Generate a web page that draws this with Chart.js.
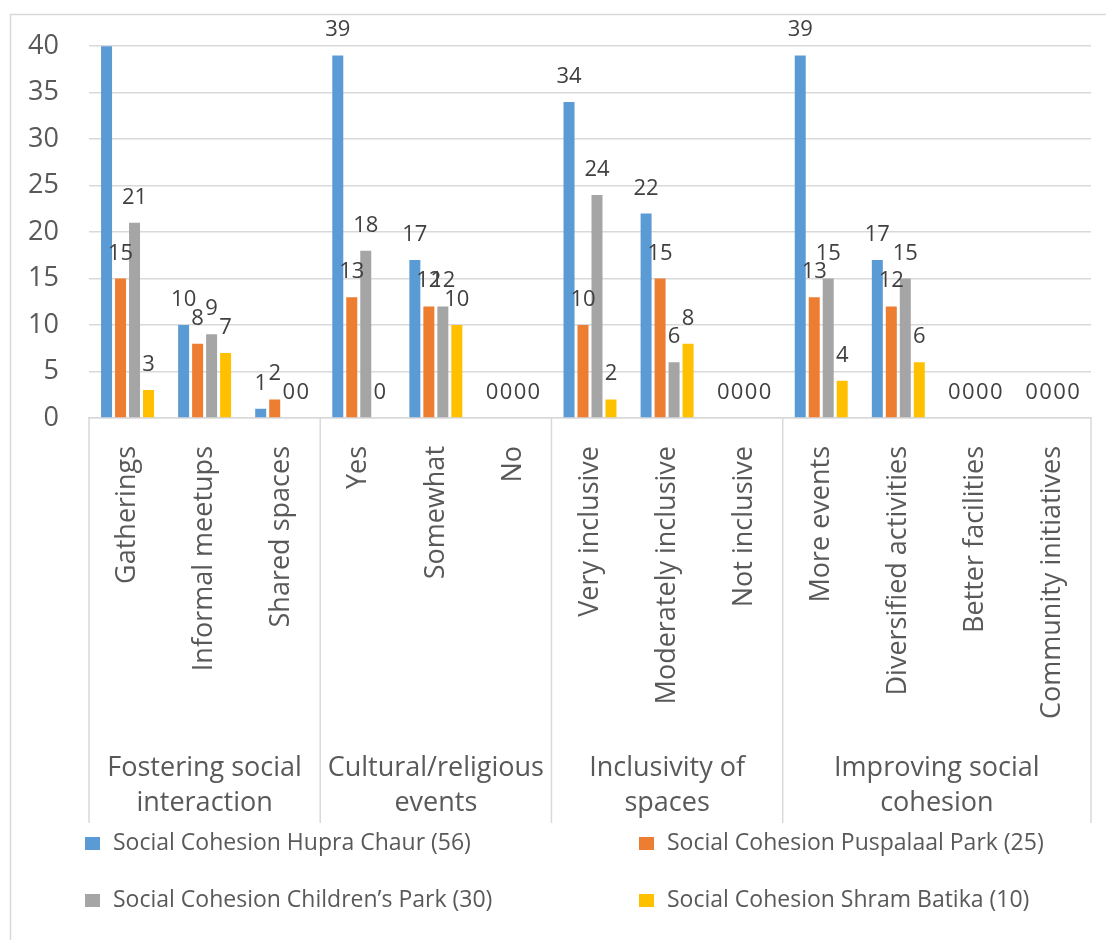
<!DOCTYPE html>
<html>
<head>
<meta charset="utf-8">
<script src="https://cdn.jsdelivr.net/npm/chart.js@4.4.1/dist/chart.umd.min.js"></script>
<style>
    body { margin: 0; background: #fff; }
    #wrap { position: relative; width: 1106px; height: 940px; }
</style>
</head>
<body>
<div id="wrap"><canvas id="cohesionChart"></canvas></div>
<script>
// categories (answers) and the question groups they belong to
const categories = [
    'Gatherings', 'Informal meetups', 'Shared spaces',
    'Yes', 'Somewhat', 'No',
    'Very inclusive', 'Moderately inclusive', 'Not inclusive',
    'More events', 'Diversified activities', 'Better facilities', 'Community initiatives'
];
const groupNames = [
    ['Fostering social', 'interaction'],
    ['Cultural/religious', 'events'],
    ['Inclusivity of', 'spaces'],
    ['Improving social', 'cohesion']
];
const groupSizes = [3, 3, 3, 4];

const seriesNames = [
    'Social Cohesion Hupra Chaur (56)',
    'Social Cohesion Puspalaal Park (25)',
    'Social Cohesion Children\u2019s Park (30)',
    'Social Cohesion Shram Batika (10)'
];
const hupraChaur    = [45, 10, 1, 39, 17, 0, 34, 22, 0, 39, 17, 0, 0];
const puspalaalPark = [15, 8, 2, 13, 12, 0, 10, 15, 0, 13, 12, 0, 0];
const childrensPark = [21, 9, 0, 18, 12, 0, 24, 6, 0, 15, 15, 0, 0];
const shramBatika   = [3, 7, 0, 0, 10, 0, 2, 8, 0, 4, 6, 0, 0];

const yMax = 40;
const yStep = 5;

const seriesColors = ['#5B9BD5', '#ED7D31', '#A5A5A5', '#FFC000'];
const textColor = '#595959';
const gridColor = '#D9D9D9';

Chart.defaults.font.family = "'Open Sans', sans-serif";

// value labels above each bar (hidden when the bar runs past the axis)
const barLabels = {
    id: 'barLabels',
    afterDatasetsDraw(chart) {
        const ctx = chart.ctx;
        const yScale = chart.scales.y;
        ctx.save();
        ctx.font = "22px 'Open Sans'";
        ctx.fillStyle = '#404040';
        ctx.textAlign = 'center';
        ctx.textBaseline = 'alphabetic';
        chart.data.datasets.forEach((ds, i) => {
            const meta = chart.getDatasetMeta(i);
            meta.data.forEach((bar, j) => {
                const v = ds.data[j];
                if (v > yScale.max) return;
                ctx.fillText(String(v), bar.x, bar.y - 19);
            });
        });
        ctx.restore();
    }
};

// outer frame, group separators, group titles and legend
const decorations = {
    id: 'decorations',
    beforeDraw(chart) {
        const ctx = chart.ctx;
        ctx.save();
        ctx.strokeStyle = gridColor;
        ctx.lineWidth = 1.5;
        ctx.strokeRect(10.5, 14.5, 1200, 1000);
        ctx.restore();
    },
    afterDraw(chart) {
        const ctx = chart.ctx;
        const xs = chart.scales.x;
        const area = chart.chartArea;
        const bottom = xs.bottom;

        // boundaries between question groups
        let bounds = [area.left];
        let idx = 0;
        groupSizes.forEach((n, g) => {
            idx += n;
            if (g < groupSizes.length - 1) {
                bounds.push((xs.getPixelForValue(idx - 1) + xs.getPixelForValue(idx)) / 2);
            }
        });
        bounds.push(area.right);

        ctx.save();
        ctx.strokeStyle = gridColor;
        ctx.lineWidth = 1.5;
        bounds.forEach(bx => {
            ctx.beginPath();
            ctx.moveTo(bx, area.bottom);
            ctx.lineTo(bx, bottom);
            ctx.stroke();
        });

        ctx.font = "27px 'Open Sans'";
        ctx.fillStyle = textColor;
        ctx.textAlign = 'center';
        ctx.textBaseline = 'middle';
        groupNames.forEach((lines, g) => {
            const cx = (bounds[g] + bounds[g + 1]) / 2;
            ctx.fillText(lines[0], cx, bottom - 55);
            ctx.fillText(lines[1], cx, bottom - 20);
        });

        // legend in two columns
        const cols = [85, 639];
        const rows = [843, 900];
        ctx.font = "23px 'Open Sans'";
        ctx.textAlign = 'left';
        chart.data.datasets.forEach((ds, i) => {
            const lx = cols[i % 2];
            const ly = rows[Math.floor(i / 2)];
            ctx.fillStyle = ds.backgroundColor;
            ctx.fillRect(lx, ly - 6, 15, 13);
            ctx.fillStyle = textColor;
            ctx.fillText(ds.label, lx + 28, ly);
        });
        ctx.restore();
    }
};

const seriesData = [hupraChaur, puspalaalPark, childrensPark, shramBatika];

new Chart(document.getElementById('cohesionChart'), {
    type: 'bar',
    data: {
        labels: categories,
        datasets: seriesData.map((d, i) => ({
            label: seriesNames[i],
            data: d,
            backgroundColor: seriesColors[i],
            categoryPercentage: 0.726,
            barPercentage: 0.786
        }))
    },
    options: {
        responsive: true,
        maintainAspectRatio: false,
        animation: false,
        layout: { padding: { top: 46, right: 15, bottom: 117, left: 0 } },
        plugins: {
            legend: { display: false },
            tooltip: { enabled: false }
        },
        scales: {
            x: {
                grid: { display: false },
                border: { display: true, color: gridColor, width: 1.5 },
                ticks: {
                    autoSkip: false,
                    minRotation: 90,
                    maxRotation: 90,
                    padding: 20,
                    color: textColor,
                    font: { size: 27 }
                },
                afterFit(scale) { scale.height = 405; }
            },
            y: {
                min: 0,
                max: yMax,
                ticks: {
                    stepSize: yStep,
                    padding: 30,
                    color: textColor,
                    font: { size: 27 }
                },
                grid: { color: gridColor, lineWidth: 1.5, drawTicks: false },
                border: { display: false },
                afterFit(scale) { scale.width = 89; }
            }
        }
    },
    plugins: [barLabels, decorations]
});
</script>
</body>
</html>
